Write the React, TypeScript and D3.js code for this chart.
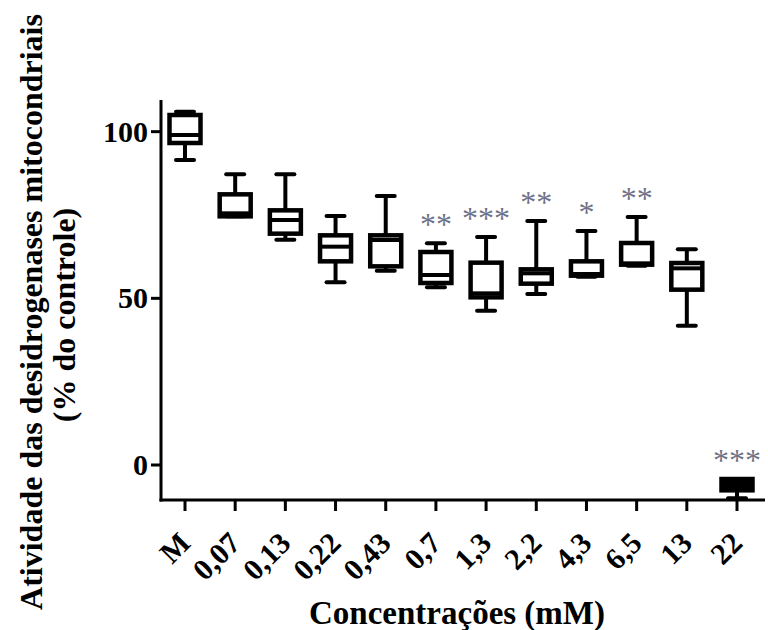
import React from "react";
import * as d3 from "d3";

// concentrações (mM), M = meio (controle)
const categories = ["M", "0,07", "0,13", "0,22", "0,43", "0,7", "1,3", "2,2", "4,3", "6,5", "13", "22"];
const mins = [91.5, 74.6, 67.6, 54.8, 58.3, 53.3, 46.3, 51.3, 56.5, 59.8, 41.8, -10];
const q1s = [96.6, 74.6, 69.4, 61.1, 59.6, 54.6, 50.3, 54.4, 56.8, 60.1, 52.6, -7.6];
const medians = [99, 75.5, 73.5, 65.5, 67.5, 57, 51.5, 57.5, 57.3, 60.5, 59, -6];
const q3s = [105, 81.2, 76.4, 68.9, 68.9, 63.9, 60.7, 58.7, 61.1, 66.6, 60.6, -4.2];
const maxs = [106, 87.2, 87.2, 74.7, 80.7, 66.5, 68.4, 73.2, 70.2, 74.4, 64.7, -4.2];
const stars = ["", "", "", "", "", "**", "***", "**", "*", "**", "", "***"];
const yTicks = [0, 50, 100];

const W = 768;
const H = 630;
const serif = "'Liberation Serif', 'Times New Roman', serif";

export default function App() {
  const x = d3.scalePoint<string>().domain(categories).range([185, 737]);
  const y = d3.scaleLinear().domain([-10.5, 109.5]).range([500, 100]);

  const boxW = 31;
  const capW = 9;

  const data = categories.map((c, i) => ({
    c,
    min: mins[i],
    q1: q1s[i],
    med: medians[i],
    q3: q3s[i],
    max: maxs[i],
    star: stars[i],
  }));

  return (
    <svg
      width={W}
      height={H}
      style={{ position: "absolute", left: 0, top: 0, background: "#fff" }}
    >
      {/* axes */}
      <line x1={161} x2={161} y1={y(109.5)} y2={y(-10.5) + 1.5} stroke="#000" strokeWidth={3} />
      <line x1={159.5} x2={765} y1={y(-10.5)} y2={y(-10.5)} stroke="#000" strokeWidth={3} />

      {yTicks.map((t) => (
        <g key={t}>
          <line x1={151} x2={161} y1={y(t)} y2={y(t)} stroke="#000" strokeWidth={3} />
          <text
            x={148}
            y={y(t)}
            dy="0.33em"
            textAnchor="end"
            fontFamily={serif}
            fontWeight="bold"
            fontSize={30}
          >
            {t}
          </text>
        </g>
      ))}

      {categories.map((c) => (
        <g key={c}>
          <line x1={x(c)} x2={x(c)} y1={500} y2={511} stroke="#000" strokeWidth={3} />
          <text
            transform={`translate(${(x(c) as number) + 7},${545}) rotate(-45)`}
            textAnchor="end"
            fontFamily={serif}
            fontWeight="bold"
            fontSize={30}
          >
            {c}
          </text>
        </g>
      ))}

      {/* boxes */}
      {data.map((d) => {
        const cx = x(d.c) as number;
        const top = y(d.q3);
        const bot = y(d.q1);
        const small = bot - top < 13;
        return (
          <g key={d.c} stroke="#000" strokeWidth={4}>
            <line x1={cx} x2={cx} y1={y(d.max)} y2={top} />
            <line x1={cx} x2={cx} y1={bot} y2={y(d.min)} />
            {d.max > d.q3 && (
              <line x1={cx - capW} x2={cx + capW} y1={y(d.max)} y2={y(d.max)} strokeLinecap="round" />
            )}
            <line x1={cx - capW} x2={cx + capW} y1={y(d.min)} y2={y(d.min)} strokeLinecap="round" />
            <rect
              x={cx - boxW / 2}
              y={top}
              width={boxW}
              height={bot - top}
              fill={small ? "#000" : "#fff"}
              strokeWidth={4.5}
            />
            <line x1={cx - boxW / 2} x2={cx + boxW / 2} y1={y(d.med)} y2={y(d.med)} />
          </g>
        );
      })}

      {/* significance */}
      {data
        .filter((d) => d.star)
        .map((d) => (
          <text
            key={"s" + d.c}
            x={x(d.c)}
            y={y(d.max) - 8}
            textAnchor="middle"
            fontFamily={serif}
            fontSize={32}
            fill="#6f7287"
          >
            {d.star}
          </text>
        ))}

      {/* titles */}
      <text
        transform="translate(42,312) rotate(-90)"
        textAnchor="middle"
        fontFamily={serif}
        fontWeight="bold"
        fontSize={32}
      >
        Atividade das desidrogenases mitocondriais
      </text>
      <text
        transform="translate(75,315) rotate(-90)"
        textAnchor="middle"
        fontFamily={serif}
        fontWeight="bold"
        fontSize={32}
      >
        (% do controle)
      </text>
      <text
        x={457}
        y={624}
        textAnchor="middle"
        fontFamily={serif}
        fontWeight="bold"
        fontSize={33}
      >
        Concentrações (mM)
      </text>
    </svg>
  );
}
